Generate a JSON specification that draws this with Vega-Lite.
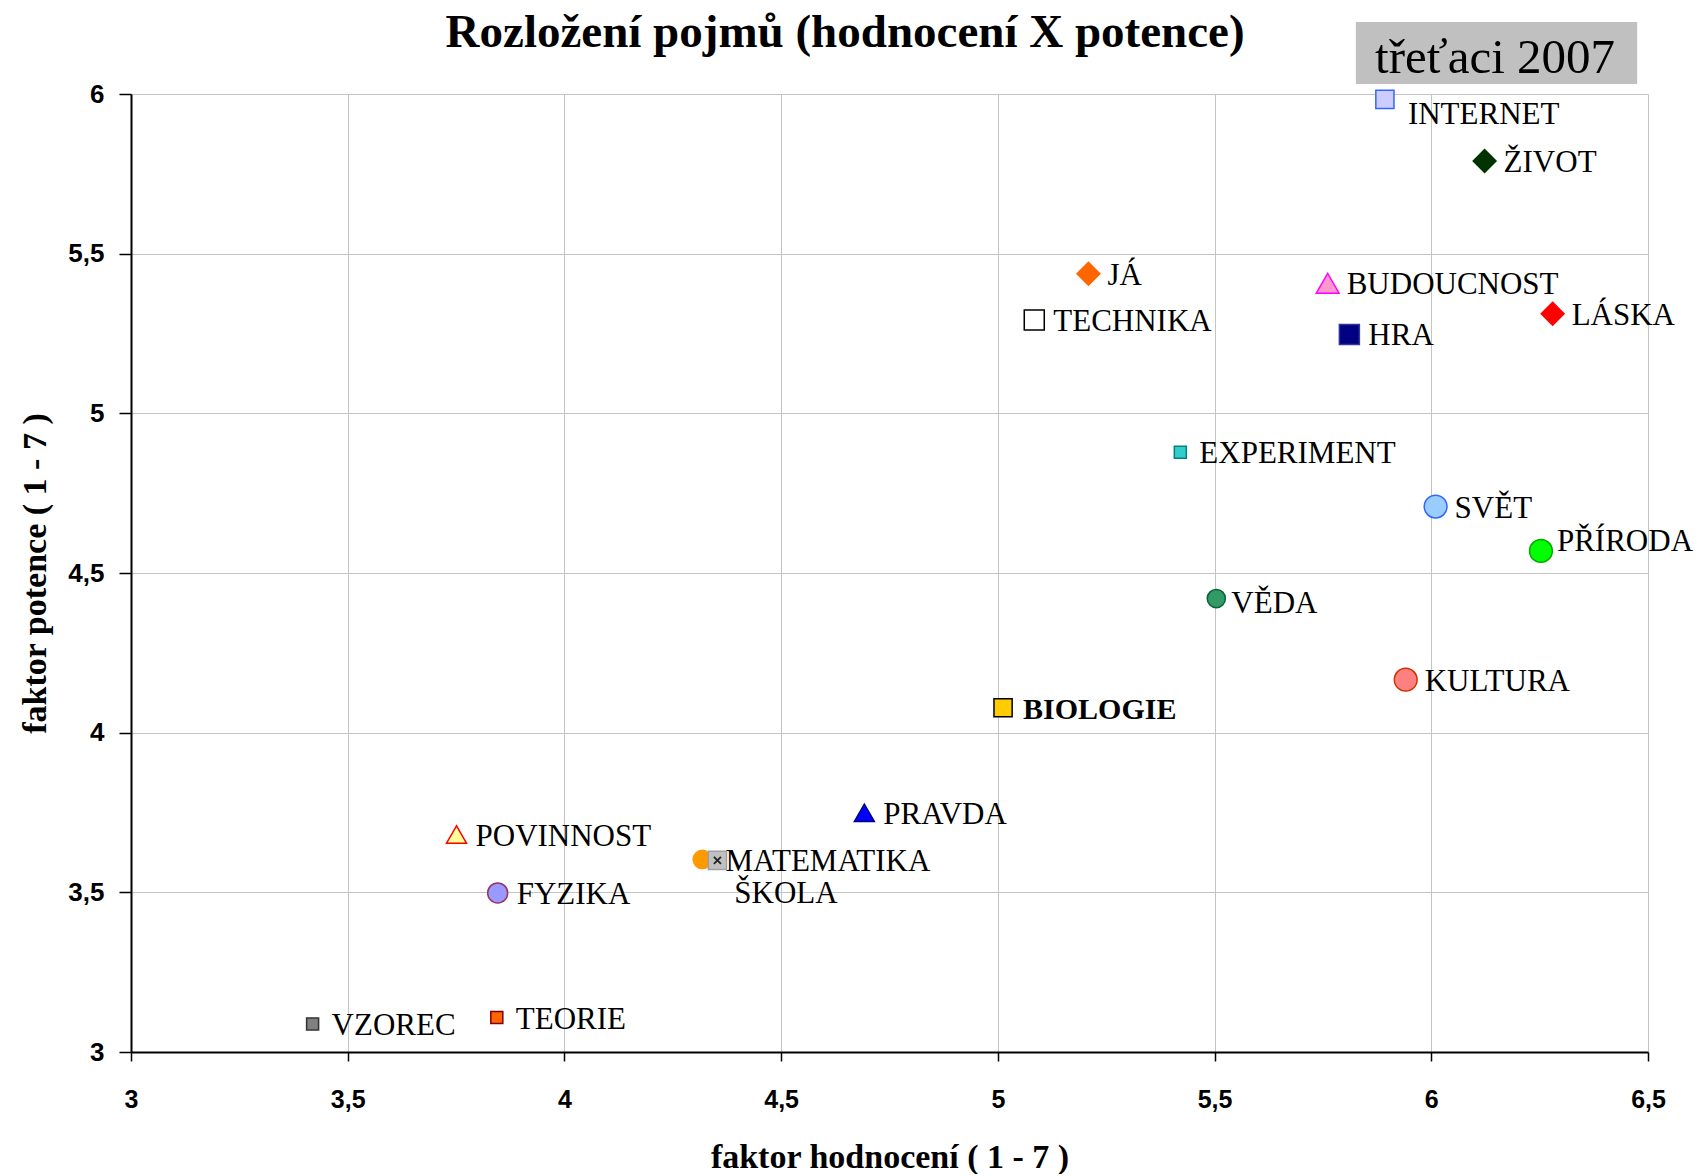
{
  "$schema": "https://vega.github.io/schema/vega-lite/v6.json",
  "autosize": {"type": "pad"},
  "padding": {"left": 18, "top": 0, "right": 0, "bottom": 0},
  "background": "#ffffff",
  "spacing": 0,
  "bounds": "flush",
  "config": {"view": {"stroke": null}},
  "datasets": {
    "pojmy": [
      {"pojem": "INTERNET", "hodnoceni": 5.893, "potence": 5.983},
      {"pojem": "ŽIVOT", "hodnoceni": 6.123, "potence": 5.790},
      {"pojem": "JÁ", "hodnoceni": 5.209, "potence": 5.437},
      {"pojem": "BUDOUCNOST", "hodnoceni": 5.761, "potence": 5.407},
      {"pojem": "TECHNIKA", "hodnoceni": 5.084, "potence": 5.292},
      {"pojem": "LÁSKA", "hodnoceni": 6.280, "potence": 5.312},
      {"pojem": "HRA", "hodnoceni": 5.811, "potence": 5.247},
      {"pojem": "EXPERIMENT", "hodnoceni": 5.421, "potence": 4.878},
      {"pojem": "SVĚT", "hodnoceni": 6.010, "potence": 4.708},
      {"pojem": "PŘÍRODA", "hodnoceni": 6.253, "potence": 4.569},
      {"pojem": "VĚDA", "hodnoceni": 5.504, "potence": 4.420},
      {"pojem": "KULTURA", "hodnoceni": 5.941, "potence": 4.166},
      {"pojem": "BIOLOGIE", "hodnoceni": 5.012, "potence": 4.078},
      {"pojem": "PRAVDA", "hodnoceni": 4.692, "potence": 3.749},
      {"pojem": "POVINNOST", "hodnoceni": 3.751, "potence": 3.681},
      {"pojem": "ŠKOLA", "hodnoceni": 4.318, "potence": 3.603},
      {"pojem": "MATEMATIKA", "hodnoceni": 4.353, "potence": 3.600},
      {"pojem": "FYZIKA", "hodnoceni": 3.846, "potence": 3.498},
      {"pojem": "VZOREC", "hodnoceni": 3.419, "potence": 3.088},
      {"pojem": "TEORIE", "hodnoceni": 3.844, "potence": 3.108}
    ],
    "zahlavi": [
      {"nadpis": "Rozložení pojmů (hodnocení X potence)", "etiketa": "třeťaci 2007"}
    ]
  },
  "vconcat": [
    {
      "width": 1517,
      "height": 94,
      "data": {"name": "zahlavi"},
      "layer": [
        {
          "mark": {"type": "rect", "fill": "#c0c0c0"},
          "encoding": {
            "x": {"datum": 5.826, "type": "quantitative", "scale": {"domain": [3, 6.5], "nice": false, "zero": false}, "axis": null},
            "x2": {"datum": 6.475},
            "y": {"datum": 0.766, "type": "quantitative", "scale": {"domain": [0, 1], "nice": false, "zero": false}, "axis": null},
            "y2": {"datum": 0.106}
          }
        },
        {
          "mark": {"type": "text", "align": "center", "baseline": "alphabetic", "font": "Liberation Serif", "fontSize": 49, "color": "#000000"},
          "encoding": {
            "x": {"datum": 6.147, "type": "quantitative"},
            "y": {"datum": 0.223, "type": "quantitative"},
            "text": {"field": "etiketa"}
          }
        },
        {
          "mark": {"type": "text", "align": "center", "baseline": "alphabetic", "font": "Liberation Serif", "fontSize": 47, "fontWeight": "bold", "color": "#000000"},
          "encoding": {
            "x": {"datum": 4.6475, "type": "quantitative"},
            "y": {"datum": 0.5, "type": "quantitative"},
            "text": {"field": "nadpis"}
          }
        }
      ]
    },
    {
      "width": 1517,
      "height": 958,
      "data": {"name": "pojmy"},
      "encoding": {
        "x": {
          "field": "hodnoceni",
          "type": "quantitative",
          "scale": {"domain": [3, 6.5], "nice": false, "zero": false},
          "axis": {
            "title": "faktor hodnocení ( 1 - 7 )",
            "titleFont": "Liberation Serif",
            "titleFontSize": 34,
            "titleFontWeight": "bold",
            "titleColor": "#000000",
            "titleBaseline": "alphabetic",
            "titleY": 115,
            "values": [3, 3.5, 4, 4.5, 5, 5.5, 6, 6.5],
            "labelExpr": "replace(toString(datum.value), '.', ',')",
            "labelFont": "Liberation Sans",
            "labelFontWeight": "bold",
            "labelFontSize": 25,
            "labelColor": "#000000",
            "labelPadding": 26,
            "labelFlush": false,
            "domainColor": "#000000",
            "domainWidth": 2,
            "tickColor": "#000000",
            "tickSize": 9,
            "tickWidth": 1.5,
            "grid": true,
            "gridColor": "#c4c4c4",
            "gridWidth": 1
          }
        },
        "y": {
          "field": "potence",
          "type": "quantitative",
          "scale": {"domain": [3, 6], "nice": false, "zero": false},
          "axis": {
            "title": "faktor potence ( 1 - 7 )",
            "titleFont": "Liberation Serif",
            "titleFontSize": 34,
            "titleFontWeight": "bold",
            "titleColor": "#000000",
            "titleBaseline": "alphabetic",
            "titleAngle": 270,
            "titleAlign": "center",
            "titleX": -86,
            "titleY": 479,
            "values": [3, 3.5, 4, 4.5, 5, 5.5, 6],
            "labelExpr": "replace(toString(datum.value), '.', ',')",
            "labelFont": "Liberation Sans",
            "labelFontWeight": "bold",
            "labelFontSize": 26,
            "labelColor": "#000000",
            "labelPadding": 15,
            "labelFlush": false,
            "domainColor": "#000000",
            "domainWidth": 2,
            "tickColor": "#000000",
            "tickSize": 12,
            "tickWidth": 1.5,
            "grid": true,
            "gridColor": "#c4c4c4",
            "gridWidth": 1
          }
        }
      },
      "layer": [
        {
          "mark": {"type": "point", "filled": true, "strokeWidth": 1.5, "opacity": 1},
          "encoding": {
            "shape": {
              "field": "pojem", "type": "nominal", "legend": null,
              "scale": {
                "domain": ["INTERNET","ŽIVOT","JÁ","BUDOUCNOST","TECHNIKA","LÁSKA","HRA","EXPERIMENT","SVĚT","PŘÍRODA","VĚDA","KULTURA","BIOLOGIE","PRAVDA","POVINNOST","ŠKOLA","MATEMATIKA","FYZIKA","VZOREC","TEORIE"],
                "range": ["square","diamond","diamond","triangle-up","square","diamond","square","square","circle","circle","circle","circle","square","triangle-up","triangle-up","circle","square","circle","square","square"]
              }
            },
            "fill": {
              "field": "pojem", "type": "nominal", "legend": null,
              "scale": {
                "domain": ["INTERNET","ŽIVOT","JÁ","BUDOUCNOST","TECHNIKA","LÁSKA","HRA","EXPERIMENT","SVĚT","PŘÍRODA","VĚDA","KULTURA","BIOLOGIE","PRAVDA","POVINNOST","ŠKOLA","MATEMATIKA","FYZIKA","VZOREC","TEORIE"],
                "range": ["#ccccff","#003300","#ff6600","#ff99cc","#ffffff","#ff0000","#000080","#33cccc","#99ccff","#00ff00","#339966","#ff8080","#ffcc00","#0000ff","#ffff99","#ff9900","#c0c0c0","#9999ff","#808080","#ff6600"]
              }
            },
            "stroke": {
              "field": "pojem", "type": "nominal", "legend": null,
              "scale": {
                "domain": ["INTERNET","ŽIVOT","JÁ","BUDOUCNOST","TECHNIKA","LÁSKA","HRA","EXPERIMENT","SVĚT","PŘÍRODA","VĚDA","KULTURA","BIOLOGIE","PRAVDA","POVINNOST","ŠKOLA","MATEMATIKA","FYZIKA","VZOREC","TEORIE"],
                "range": ["#3366ff","#003300","#ff6600","#ff00ff","#000000","#ff0000","#333399","#008080","#3366ff","#00aa00","#006633","#cc3300","#000000","#000080","#ff0000","#ff9900","#a0a0a0","#993366","#333333","#800000"]
              }
            },
            "size": {
              "condition": [
                {"test": "indexof(['EXPERIMENT','VZOREC','TEORIE'], datum.pojem) >= 0", "value": 144},
                {"test": "indexof(['ŽIVOT','JÁ','LÁSKA','SVĚT','PŘÍRODA','KULTURA','BUDOUCNOST'], datum.pojem) >= 0", "value": 520},
                {"test": "indexof(['ŠKOLA','MATEMATIKA','VĚDA','INTERNET','BIOLOGIE'], datum.pojem) >= 0", "value": 330}
              ],
              "value": 400
            }
          }
        },
        {
          "transform": [{"filter": "datum.pojem === 'MATEMATIKA'"}],
          "mark": {"type": "point", "shape": "M-1,-1L1,1M-1,1L1,-1", "filled": false, "stroke": "#222222", "strokeWidth": 1.8, "size": 50, "opacity": 1}
        },
        {
          "transform": [{"filter": "indexof(['INTERNET','ŠKOLA','MATEMATIKA','PŘÍRODA','BIOLOGIE','VĚDA'], datum.pojem) < 0"}],
          "mark": {"type": "text", "align": "left", "baseline": "middle", "dx": 19, "dy": 2, "font": "Liberation Serif", "fontSize": 31, "color": "#000000"},
          "encoding": {"text": {"field": "pojem"}}
        },
        {
          "transform": [{"filter": "datum.pojem === 'INTERNET'"}],
          "mark": {"type": "text", "align": "left", "baseline": "middle", "dx": 23, "dy": 16, "font": "Liberation Serif", "fontSize": 31, "color": "#000000"},
          "encoding": {"text": {"field": "pojem"}}
        },
        {
          "transform": [{"filter": "datum.pojem === 'ŠKOLA'"}],
          "mark": {"type": "text", "align": "left", "baseline": "middle", "dx": 32, "dy": 35, "font": "Liberation Serif", "fontSize": 31, "color": "#000000"},
          "encoding": {"text": {"field": "pojem"}}
        },
        {
          "transform": [{"filter": "datum.pojem === 'MATEMATIKA'"}],
          "mark": {"type": "text", "align": "left", "baseline": "middle", "dx": 8, "dy": 2, "font": "Liberation Serif", "fontSize": 31, "color": "#000000"},
          "encoding": {"text": {"field": "pojem"}}
        },
        {
          "transform": [{"filter": "datum.pojem === 'PŘÍRODA'"}],
          "mark": {"type": "text", "align": "left", "baseline": "middle", "dx": 16, "dy": -9, "font": "Liberation Serif", "fontSize": 31, "color": "#000000"},
          "encoding": {"text": {"field": "pojem"}}
        },
        {
          "transform": [{"filter": "datum.pojem === 'VĚDA'"}],
          "mark": {"type": "text", "align": "left", "baseline": "middle", "dx": 15, "dy": 5, "font": "Liberation Serif", "fontSize": 31, "color": "#000000"},
          "encoding": {"text": {"field": "pojem"}}
        },
        {
          "transform": [{"filter": "datum.pojem === 'BIOLOGIE'"}],
          "mark": {"type": "text", "align": "left", "baseline": "middle", "dx": 20, "dy": 2, "font": "Liberation Serif", "fontSize": 30, "fontWeight": "bold", "color": "#000000"},
          "encoding": {"text": {"field": "pojem"}}
        }
      ]
    }
  ]
}
